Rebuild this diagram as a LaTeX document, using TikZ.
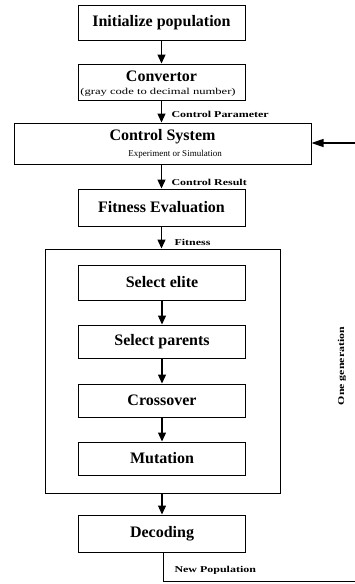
\documentclass[tikz,border=0pt]{standalone}
\usepackage{fontspec}
\setmainfont{Liberation Serif}
\usetikzlibrary{arrows.meta}
\begin{document}
\begin{tikzpicture}[x=1pt,y=-1pt,
  box/.style={draw,line width=1pt,minimum width=167pt,minimum height=35pt,inner sep=0pt,align=center},
  ttl/.style={font=\fontsize{16}{18}\selectfont\bfseries},
  lbl/.style={font=\fontsize{9}{10}\selectfont\bfseries\addfontfeatures{FakeStretch=1.33},anchor=west},
  arr/.style={line width=1.3pt,-{Triangle[length=9pt,width=8pt]}}]
\useasboundingbox (0,0) rectangle (355,584);
\clip (0,0) rectangle (355,584);
\node[box,ttl] (init) at (161.5,23) {Initialize population};
\node[box,minimum height=36pt] (conv) at (161.5,82) {};
\node[ttl] (convt) at (161.5,76) {Convertor};
\node[font=\fontsize{9}{10}\selectfont\addfontfeatures{FakeStretch=1.4}] (convs) at (158,92) {(gray code to decimal number)};
\node[box,minimum width=297pt,minimum height=41pt] (cs) at (162.5,143.5) {};
\node[ttl] (cst) at (162.5,137) {Control System};
\node[font=\fontsize{9}{10}\selectfont] (css) at (175,154.5) {Experiment or Simulation};
\node[box,ttl,minimum height=37pt] (fit) at (161.5,207.5) {Fitness Evaluation};
\node[draw,line width=1pt,minimum width=235pt,minimum height=244pt,inner sep=0pt] (gen) at (162.5,371) {};
\node[box,ttl] (elite) at (162,282.5) {Select elite};
\node[box,ttl,minimum height=33pt] (par) at (162,341.5) {Select parents};
\node[box,ttl,minimum height=33pt] (cross) at (162,400.5) {Crossover};
\node[box,ttl,minimum height=33pt] (mut) at (162,458.5) {Mutation};
\node[box,ttl,minimum height=37pt] (dec) at (162,533.5) {Decoding};
\node[font=\fontsize{9}{10}\selectfont\bfseries\addfontfeatures{FakeStretch=1.32},rotate=90] (onegen) at (342,366) {One generation};
\draw[arr] (init) -- (conv);
\draw[arr] (conv) -- (cs.north -| conv.south);
\node[lbl] (cp) at (168,114.5) {Control Parameter};
\draw[arr] (cs.south -| fit.north) -- (fit);
\node[lbl] (cr) at (168,182) {Control Result};
\draw[arr] (fit) -- (gen.north -| fit.south);
\node[lbl] (ft) at (171,242) {Fitness};
\draw[arr] (elite) -- (par);
\draw[arr] (par) -- (cross);
\draw[arr] (cross) -- (mut);
\draw[arr] (gen.south -| dec.north) -- (dec);
\coordinate (c1) at (163,581.5);
\coordinate (c2) at (358,581.5);
\coordinate (c3) at (358,143);
\draw[line width=1pt] (dec.south -| c1) -- (c1) -- (c2) -- (c3);
\draw[line width=1.3pt,-{Triangle[length=12pt,width=8pt]}] (c3) -- (cs.east |- c3);
\node[lbl] (np) at (171,570) {New Population};
\end{tikzpicture}
\end{document}
